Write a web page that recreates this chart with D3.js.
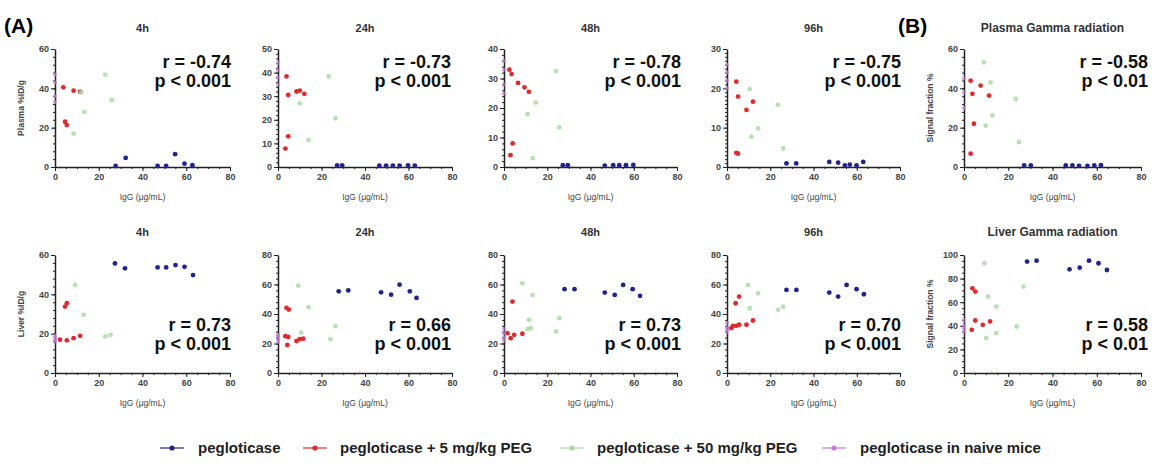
<!DOCTYPE html>
<html>
<head>
<meta charset="utf-8">
<script src="https://cdn.jsdelivr.net/npm/d3@7"></script>
<style>
  body { margin: 0; background: #fff; }
  svg { font-family: "Liberation Sans", Arial, sans-serif; }
  .tick text { font-size: 9px; font-weight: bold; fill: #444; }
  .domain, .tick line { stroke: #222; }
</style>
</head>
<body>
<div id="chart"></div>
<script>
// panel order: row 1 = plasma 4h, 24h, 48h, 96h, plasma gamma ; row 2 = liver ...
var titles = ["4h", "24h", "48h", "96h", "Plasma Gamma radiation",
              "4h", "24h", "48h", "96h", "Liver Gamma radiation"];
var yMaxes = [60, 50, 40, 30, 60, 60, 80, 80, 80, 100];
var yTickSteps = [20, 10, 10, 10, 20, 20, 20, 20, 20, 20];
var yMinorSteps = [4, 2, 2, 1, 4, 4, 4, 4, 4, 5];
var yLabels = ["Plasma %ID/g", "", "", "", "Signal fraction %",
               "Liver %ID/g", "", "", "", "Signal fraction %"];
var rTexts = ["r = -0.74", "r = -0.73", "r = -0.78", "r = -0.75", "r = -0.58",
              "r = 0.73", "r = 0.66", "r = 0.73", "r = 0.70", "r = 0.58"];
var pTexts = ["p < 0.001", "p < 0.001", "p < 0.001", "p < 0.001", "p < 0.01",
              "p < 0.001", "p < 0.001", "p < 0.001", "p < 0.001", "p < 0.01"];
var seriesNames = ["pegloticase", "pegloticase + 5 mg/kg PEG",
                   "pegloticase + 50 mg/kg PEG", "pegloticase in naive mice"];

// [IgG, value] per panel
var pegloticase = [
  [[27.7,0.5],[32.3,4.6],[46.9,0.5],[50.8,0.5],[54.9,6.5],[59.2,1.7],[62.8,0.9]],
  [[27.2,0.7],[29.5,0.7],[46.6,0.6],[49.7,0.6],[52.8,0.6],[55.9,0.6],[59.8,0.7],[62.9,0.6]],
  [[27.2,0.6],[29.5,0.6],[46.6,0.5],[50.5,0.6],[53.3,0.6],[56.4,0.6],[59.8,0.7]],
  [[27.5,0.9],[32,0.9],[47.3,1.3],[51.4,1.1],[54.5,0.4],[56.8,0.6],[59.9,0.4],[63,1.3]],
  [[27.2,0.8],[30.2,0.8],[46,0.8],[49,0.8],[52,0.6],[55.8,0.6],[58.9,0.8],[61.9,0.9]],
  [[27.4,55.7],[32,53.2],[46.9,53.7],[50.8,53.7],[55.1,54.9],[59.2,54],[63.1,49.8]],
  [[27.9,55.4],[32.3,56],[47.4,54.7],[52,53.1],[55.9,59.9],[60.6,55.4],[63.7,50.9]],
  [[28,56.8],[32.6,56.8],[46.6,54.5],[51.2,52.9],[55.1,59.7],[59.5,56.8],[62.9,52.3]],
  [[27.5,56.3],[32.1,56.3],[47.3,54.5],[51.4,51.8],[55.3,59.7],[59.9,56.8],[63.3,53.4]],
  [[28.5,94.4],[32.8,95.2],[47.7,87.9],[52.3,89.3],[56.5,95.2],[60.8,93],[64.6,87.3]]
];
var peg5 = [
  [[3.8,40.5],[8.5,38.8],[11.5,38.3],[4.6,23],[5.4,21.3]],
  [[3.9,38.4],[4.7,30.5],[8.5,32],[10,32.4],[12.1,31],[4.7,13],[3.4,7.8]],
  [[2.5,33],[3.5,31.5],[6.5,28.5],[9.5,27],[11.5,25.5],[4,8],[3,4]],
  [[4.3,21.7],[5.1,17.9],[9,14.5],[12,16.6],[5.1,3.4],[4.3,3.6]],
  [[3,43.9],[3.8,37.2],[7.5,41.4],[11.3,36.3],[4.5,22],[3,6.8]],
  [[4.6,33.8],[5.4,35.5],[2.3,16.9],[5.4,16.6],[8.5,17.7],[11.5,18.9]],
  [[3.9,44.2],[5,43],[3.4,25],[4.7,24.4],[4.3,19],[8.5,21.7],[10,22.9],[11.6,23.3]],
  [[3.9,48.4],[1.6,27],[3.1,23.6],[4.7,25.9],[8.5,26.6]],
  [[4,47.3],[5.6,51.8],[2.8,32],[4.3,32],[5.6,32.7],[2,30.4],[9,32.7],[12,35.6]],
  [[3.8,71.8],[5.1,69],[3.5,36.6],[5.1,44.5],[8.5,40.8],[11.8,43.7]]
];
var peg50 = [
  [[13.5,28],[8.5,17],[23,47],[26,34],[12,38]],
  [[23.3,38.4],[26.4,20.6],[14,11.4],[10,27]],
  [[24,32.5],[14.7,21.8],[10.9,17.9],[25.6,13.4],[13.2,3]],
  [[10.5,19.8],[23.6,15.8],[14.4,9.8],[11.3,7.7],[26,4.7]],
  [[9,53.2],[12,43],[23.4,34.6],[12.8,26.2],[24.9,12.7],[9.8,21]],
  [[9.2,44.8],[13.1,29.6],[23,18.6],[25.4,19.4]],
  [[9.3,59.2],[14,44.6],[10.6,27.4],[26.4,31.8],[24.1,22.9]],
  [[8.5,60.8],[13.2,52.9],[11.6,36],[25.6,37.2],[24.1,28.2],[10.9,29.7],[12.4,30.4]],
  [[9.7,59.7],[14.4,54],[10.5,43.9],[23.6,42.8],[26,45]],
  [[9.2,93],[10.8,64.8],[14.6,56.3],[14.6,33.8],[10,29.6],[26.9,73.2],[23.8,39.4]]
];
var naive = [
  [[0,47],[0,43],[0,36],[0,33]],
  [[0,44],[0,41],[0,38],[0,35]],
  [[0,36],[0,33],[0,28],[0,25]],
  [[0,26],[0,24],[0,22],[0,20]],
  [[0,45],[0,38],[0,30]],
  [[0,19],[0,18],[0,17],[0,16]],
  [[0,26],[0,25],[0,23],[0,21]],
  [[0,30],[0,27],[0,24],[0,22]],
  [[0,34],[0,31],[0,30],[0,28]],
  [[0,45],[0,40],[0,38],[0,35]]
];

var colors = ["#23238f", "#e02a2f", "#a9dca3", "#c77ad8"];
var allSeries = [pegloticase, peg5, peg50, naive];

var W = 1163, H = 466;
var colX = [[55, 230], [278, 452], [504, 677], [727, 900], [964, 1141]];
var rowY = [[167, 49], [373, 255]];
var textEnd = [231, 451, 681, 901, 1148];

var svg = d3.select("#chart").append("svg")
    .attr("width", W).attr("height", H);

svg.append("text").text("(A)").attr("x", 4).attr("y", 33)
    .style("font-size", "21px").style("font-weight", "bold");
svg.append("text").text("(B)").attr("x", 898).attr("y", 33)
    .style("font-size", "21px").style("font-weight", "bold");

titles.forEach(function(t, i) {
    var row = Math.floor(i / 5), col = i % 5;
    var x = d3.scaleLinear().domain([0, 80]).range(colX[col]);
    var y = d3.scaleLinear().domain([0, yMaxes[i]]).range(rowY[row]);
    var g = svg.append("g");

    // minor ticks
    g.append("g").attr("transform", "translate(0," + y(0) + ")")
        .call(d3.axisBottom(x).tickValues(d3.range(0, 81, 5)).tickSize(2).tickFormat(""))
        .call(function(s) { s.select(".domain").remove(); });
    g.append("g").attr("transform", "translate(" + x(0) + ",0)")
        .call(d3.axisLeft(y).tickValues(d3.range(0, yMaxes[i] + 0.01, yMinorSteps[i])).tickSize(2).tickFormat(""))
        .call(function(s) { s.select(".domain").remove(); });

    // major axes
    g.append("g").attr("transform", "translate(0," + y(0) + ")")
        .call(d3.axisBottom(x).tickValues([0, 20, 40, 60, 80]).tickSize(4).tickSizeOuter(0).tickPadding(3))
        .selectAll(".domain").attr("stroke-width", 1.5);
    g.append("g").attr("transform", "translate(" + x(0) + ",0)")
        .call(d3.axisLeft(y).tickValues(d3.range(0, yMaxes[i] + 0.01, yTickSteps[i])).tickSize(4).tickSizeOuter(0).tickPadding(2))
        .selectAll(".domain").attr("stroke-width", 1.5);

    // title
    g.append("text").text(t)
        .attr("x", (colX[col][0] + colX[col][1]) / 2)
        .attr("y", row === 0 ? 32 : 236)
        .attr("text-anchor", "middle")
        .style("font-size", col === 4 ? "12px" : "11px").style("font-weight", "bold").style("fill", "#333");

    // x label
    g.append("text").text("IgG (\u03bcg/mL)")
        .attr("x", (colX[col][0] + colX[col][1]) / 2)
        .attr("y", y(0) + 33)
        .attr("text-anchor", "middle")
        .style("font-size", "8.5px").style("fill", "#444");

    // y label
    if (yLabels[i]) {
        g.append("text").text(yLabels[i])
            .attr("transform", "translate(" + (colX[col][0] - 31) + "," + ((rowY[row][0] + rowY[row][1]) / 2) + ") rotate(-90)")
            .attr("text-anchor", "middle")
            .style("font-size", "8.5px").style("font-weight", "bold").style("fill", "#444");
    }

    // points
    allSeries.forEach(function(series, k) {
        g.selectAll("circle.s" + k)
            .data(series[i])
            .enter().append("circle")
            .attr("class", "s" + k)
            .attr("cx", function(d) { return x(d[0]); })
            .attr("cy", function(d) { return y(d[1]); })
            .attr("r", k === 3 ? 2 : 2.4)
            .attr("fill", colors[k])
            .attr("opacity", k === 2 ? 0.85 : (k === 3 ? 0.7 : 1));
    });

    // r and p
    var rY = row === 0 ? 68 : 331;
    g.append("text").text(rTexts[i]).attr("x", textEnd[col]).attr("y", rY)
        .attr("text-anchor", "end")
        .style("font-size", "18px").style("font-weight", "bold").style("fill", "#111");
    g.append("text").text(pTexts[i]).attr("x", textEnd[col]).attr("y", rY + 19)
        .attr("text-anchor", "end")
        .style("font-size", "18px").style("font-weight", "bold").style("fill", "#111");
});

// legend
var legMarkX = [160, 303, 560, 822];
var legTextX = [198, 340, 597, 860];
var legY = 448;
var leg = svg.append("g");
seriesNames.forEach(function(name, k) {
    leg.append("line")
        .attr("x1", legMarkX[k]).attr("x2", legMarkX[k] + 24)
        .attr("y1", legY).attr("y2", legY)
        .attr("stroke", colors[k]).attr("stroke-width", 1.2);
    leg.append("circle")
        .attr("cx", legMarkX[k] + 12).attr("cy", legY).attr("r", 2.6)
        .attr("fill", colors[k]);
    leg.append("text").text(name)
        .attr("x", legTextX[k]).attr("y", legY + 5)
        .style("font-size", "15px").style("font-weight", "bold").style("fill", "#222");
});
</script>
</body>
</html>
